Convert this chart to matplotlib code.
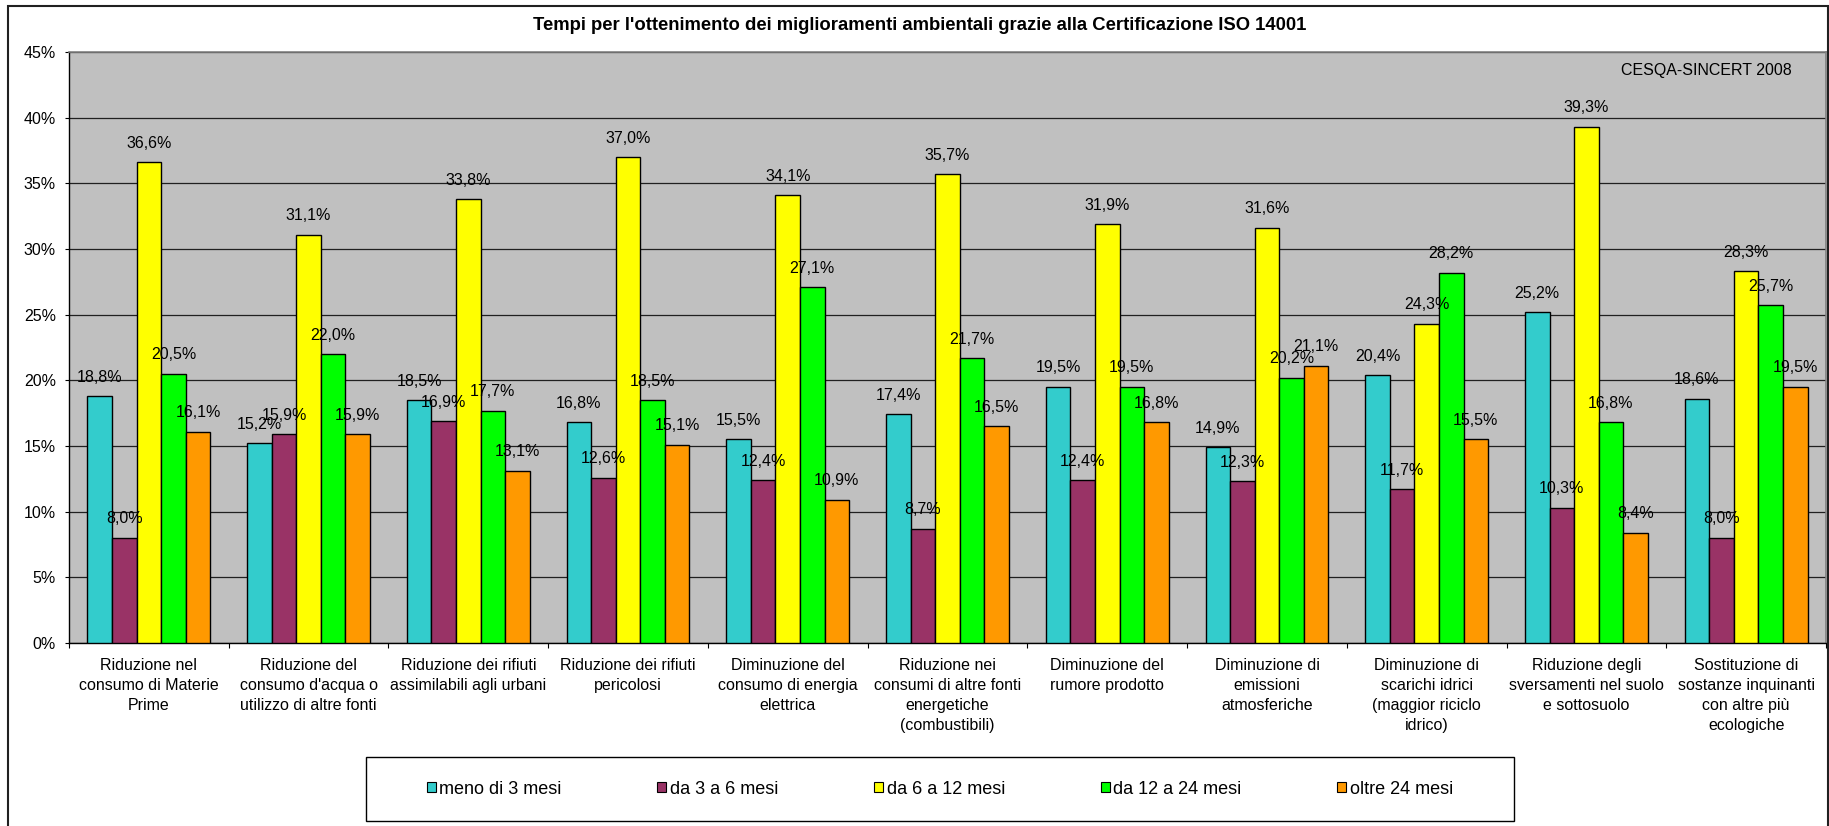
import matplotlib
matplotlib.use("Agg")
import matplotlib.pyplot as plt
from matplotlib.patches import Patch, Rectangle
import numpy as np

plt.rcParams['font.family'] = ['Liberation Sans', 'DejaVu Sans']

categories = [
    "Riduzione nel\nconsumo di Materie\nPrime",
    "Riduzione del\nconsumo d'acqua o\nutilizzo di altre fonti",
    "Riduzione dei rifiuti\nassimilabili agli urbani",
    "Riduzione dei rifiuti\npericolosi",
    "Diminuzione del\nconsumo di energia\nelettrica",
    "Riduzione nei\nconsumi di altre fonti\nenergetiche\n(combustibili)",
    "Diminuzione del\nrumore prodotto",
    "Diminuzione di\nemissioni\natmosferiche",
    "Diminuzione di\nscarichi idrici\n(maggior riciclo\nidrico)",
    "Riduzione degli\nsversamenti nel suolo\ne sottosuolo",
    "Sostituzione di\nsostanze inquinanti\ncon altre più\necologiche",
]

series_names = ["meno di 3 mesi", "da 3 a 6 mesi", "da 6 a 12 mesi",
                "da 12 a 24 mesi", "oltre 24 mesi"]

meno_3 = [18.8, 15.2, 18.5, 16.8, 15.5, 17.4, 19.5, 14.9, 20.4, 25.2, 18.6]
da_3_6 = [8.0, 15.9, 16.9, 12.6, 12.4, 8.7, 12.4, 12.3, 11.7, 10.3, 8.0]
da_6_12 = [36.6, 31.1, 33.8, 37.0, 34.1, 35.7, 31.9, 31.6, 24.3, 39.3, 28.3]
da_12_24 = [20.5, 22.0, 17.7, 18.5, 27.1, 21.7, 19.5, 20.2, 28.2, 16.8, 25.7]
oltre_24 = [16.1, 15.9, 13.1, 15.1, 10.9, 16.5, 16.8, 21.1, 15.5, 8.4, 19.5]

y_ticks = [0, 5, 10, 15, 20, 25, 30, 35, 40, 45]
y_tick_labels = ["0%", "5%", "10%", "15%", "20%", "25%", "30%", "35%", "40%", "45%"]

title = "Tempi per l'ottenimento dei miglioramenti ambientali grazie alla Certificazione ISO 14001"
source = "CESQA-SINCERT 2008"

colors = ["#33CCCC", "#993366", "#FFFF00", "#00FF00", "#FF9900"]
all_series = [meno_3, da_3_6, da_6_12, da_12_24, oltre_24]

W, H = 1829, 826
fig = plt.figure(figsize=(W / 100, H / 100), dpi=100)
fig.patch.set_facecolor("white")

left, right, top, bottom = 69, 1826, 52, 643
ax = fig.add_axes([left / W, 1 - bottom / H, (right - left) / W, (bottom - top) / H])
ax.set_facecolor("#C0C0C0")

x = np.arange(len(categories))
bw = 1 / 6.5
for j, (vals, c) in enumerate(zip(all_series, colors)):
    pos = x + (j - 2) * bw
    ax.bar(pos, vals, width=bw, color=c, edgecolor="black", linewidth=1.0, zorder=3)
    for xi, v in zip(pos, vals):
        ax.annotate(f"{v:.1f}%".replace(".", ","), (xi, v), xytext=(0, 19),
                    textcoords="offset pixels", ha="center", va="center",
                    fontsize=11.5, color="black", zorder=5)

ax.set_xlim(-0.5, len(categories) - 0.5)
ax.set_ylim(0, 45)
ax.set_yticks(y_ticks)
ax.set_yticklabels(y_tick_labels, fontsize=11.5)
ax.yaxis.grid(True, color="#202020", linewidth=0.9)
ax.set_axisbelow(True)

ax.set_xticks(x)
ax.set_xticklabels(categories, fontsize=11.5, linespacing=1.42, va="top")
ax.set_xticks(np.arange(-0.5, len(categories), 1.0), minor=True)
ax.tick_params(axis="x", which="major", length=0, pad=11)
ax.tick_params(axis="x", which="minor", length=3.6, width=0.8, direction="out")
ax.tick_params(axis="y", length=3, width=0.8, direction="out", pad=6.5)

for s in ["left", "bottom"]:
    ax.spines[s].set_color("black")
    ax.spines[s].set_linewidth(1.0)
for s in ["top", "right"]:
    ax.spines[s].set_color("#808080")
    ax.spines[s].set_linewidth(1.2)

ax.text(1792 / W, 1 - 70 / H, source, transform=fig.transFigure, ha="right",
        va="center", fontsize=11.5, color="black")

fig.text(920 / W, 1 - 25 / H, title, ha="center", va="center", fontsize=13.3,
         fontweight="bold", color="black")

# legend frame
fig.patches.append(Rectangle((366 / W, 1 - 821 / H), (1514 - 366) / W, (821 - 757) / H,
                             transform=fig.transFigure, fill=False, edgecolor="black",
                             linewidth=1.0))
handles = [Patch(facecolor=c, edgecolor="black", linewidth=0.8) for c in colors]
fig.legend(handles, series_names, loc="center", ncol=5,
           bbox_to_anchor=((366 + 1514) / 2 / W, 1 - 789 / H),
           frameon=False, fontsize=13, handlelength=0.5, handleheight=0.5,
           handletextpad=0.2, columnspacing=5.3)

# outer chart border
fig.patches.append(Rectangle((8 / W, -0.05), (1828 - 8) / W, 1.05 - 6 / H,
                             transform=fig.transFigure, fill=False,
                             edgecolor="#202020", linewidth=1.5))

fig.savefig("out.png", dpi=100, facecolor="white")
